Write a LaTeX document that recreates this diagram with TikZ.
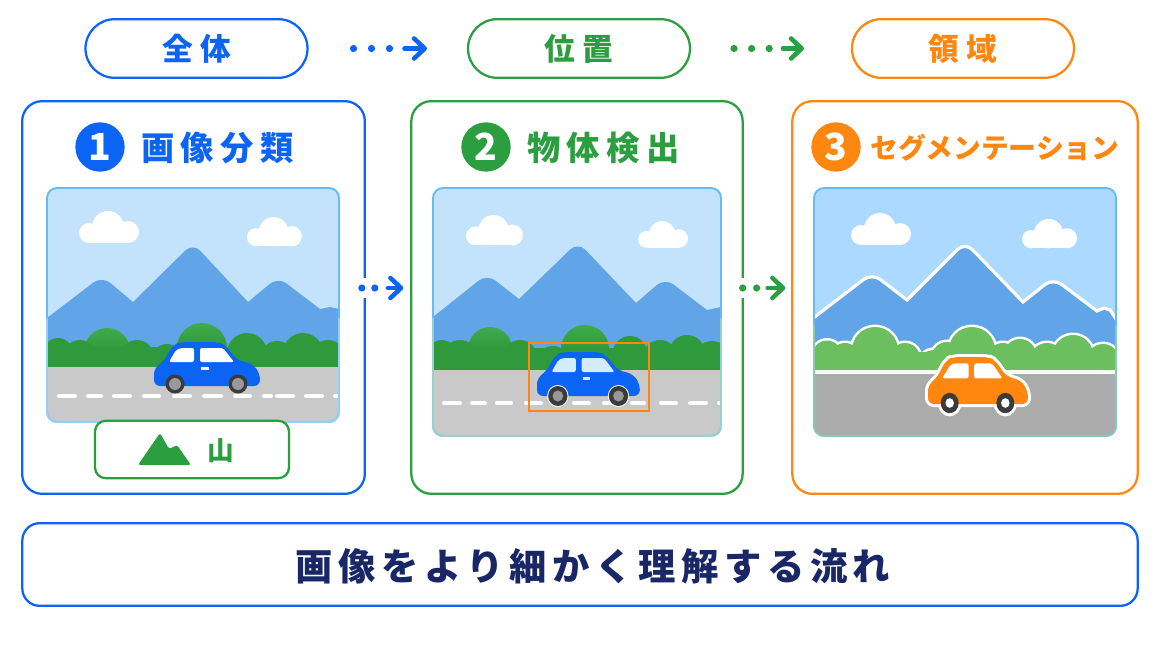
\documentclass[tikz,border=0pt]{standalone}
\usepackage{fontspec}
\usetikzlibrary{arrows.meta,calc}
\newfontfamily\jpwide[LetterSpace=24]{Noto Sans CJK JP}
\newfontfamily\jphead[LetterSpace=19]{Noto Sans CJK JP}
\newfontfamily\jplong[LetterSpace=15]{Noto Sans CJK JP}
\newfontfamily\jpplain{Noto Sans CJK JP}
\definecolor{cBlue}{HTML}{0B64F4}
\definecolor{cGreen}{HTML}{2B9E40}
\definecolor{cOrange}{HTML}{FF860F}
\definecolor{cNavy}{HTML}{1A2767}
\definecolor{cSky}{HTML}{C2E3FB}
\definecolor{cSkyDeep}{HTML}{ABD9FF}
\definecolor{cMount}{HTML}{62A4E8}
\definecolor{cBush}{HTML}{2F9A3C}
\definecolor{cBushTop}{HTML}{40AB4B}
\definecolor{cBushLight}{HTML}{6BBF5F}
\definecolor{cRoad}{HTML}{C9C9C9}
\definecolor{cRoadDeep}{HTML}{ABABAB}
\definecolor{cFrameTop}{HTML}{66BBF6}
\definecolor{cWheel}{HTML}{3B3B3B}
\tikzset{
  x=0.75pt,y=-0.75pt,
  panelbox/.style={draw=#1,line width=1.7pt,fill=white,rounded corners=15pt,inner sep=0pt,outer sep=0pt},
  pillbox/.style={draw=#1,line width=1.7pt,fill=white,rounded corners=22pt,inner sep=0pt,outer sep=0pt,
    minimum width=166.5pt,minimum height=44pt,text=#1},
  pilltext/.style={text=#1,inner sep=0pt,font=\jpwide\bfseries\fontsize{23pt}{26pt}\selectfont},
  heading/.style={text=#1,inner sep=0pt,font=\jphead\bfseries\fontsize{25pt}{28pt}\selectfont},
  badge/.style={circle,fill=#1,text=white,inner sep=0pt,minimum size=37pt,font=\jpplain\bfseries\fontsize{28pt}{30pt}\selectfont},
  dotrun/.style={draw=#1,line width=5.4pt,line cap=round},
  shaft/.style={draw=#1,line width=3.4pt,line cap=round,-{Straight Barb[length=8pt,width=15pt,round]}},
  roaddash/.style={white,line width=3pt,line cap=round,shorten <=1.5pt,shorten >=1.5pt},
  framing/.style={draw=#1,line width=1.4pt,rounded corners=7.5pt},
}
% one cloud: left end, top, width in px
\newcommand{\skycloud}[3]{%
  \begin{scope}[shift={(#1,#2)},scale=#3/60]
    \fill[white] (29,16) circle[radius=16];
    \fill[white] (49,21) circle[radius=11];
    \fill[white] (10,22) circle[radius=10];
    \fill[white] (10,13) rectangle (49,32);
  \end{scope}}
% car outline and window panes, in the car's own 106 px wide frame
\newcommand{\carbody}{(0,44) -- (0,26) -- (9,20) -- (19,3) -- (27,0) -- (64,0) -- (71,3) -- (83,18) -- (99,22) -- (106,32) -- (106,44) -- cycle}
\newcommand{\carglass}[1]{%
  \fill[#1,rounded corners=1.5pt] (15,20) -- (22,8) -- (27,6) -- (40,6) -- (40,20) -- cycle;
  \fill[#1,rounded corners=1.5pt] (46,6) -- (69,6) -- (80,20) -- (46,20) -- cycle;
  \fill[#1] (47,25) rectangle (55,28);}
% a bush with a lighter crown
\newcommand{\crownbush}[3]{\shade[top color=cBushTop,bottom color=cBush,middle color=cBush] (#1,#2) circle[radius=#3];}
\begin{document}
\begin{tikzpicture}
\useasboundingbox (0,0) rectangle (1154,649);
\fill[white] (0,0) rectangle (1154,649);

% stage labels along the top
\node[pillbox=cBlue]  (pillA) at (196.5,48.5) {};
\node[pillbox=cGreen] (pillB) at (579,48.5) {};
\node[pillbox=cOrange](pillC) at (963,48.5) {};
\node[pilltext=cBlue]   (pillAt) at (pillA) {全体};
\node[pilltext=cGreen]  (pillBt) at (pillB) {位置};
\node[pilltext=cOrange] (pillCt) at (pillC) {領域};

% the three panels
\node[panelbox=cBlue,minimum width=257pt,minimum height=294.5pt]   (panA) at (193.5,297.5) {};
\node[panelbox=cGreen,minimum width=248.5pt,minimum height=294.5pt]    (panB) at (577,297.5) {};
\node[panelbox=cOrange,minimum width=259pt,minimum height=294.5pt] (panC) at (965,297.5) {};

% arrows between the stage labels
\draw[dotrun=cBlue,dash pattern=on 0pt off 13.5pt] ($(pillA.east)+(46,0)$) -- ($(pillA.east)+(84,0)$);
\draw[shaft=cBlue] ($(pillA.east)+(97,0)$) -- ($(pillB.west)+(-41,0)$);
\draw[dotrun=cGreen,dash pattern=on 0pt off 13.2pt] ($(pillB.east)+(44,0)$) -- ($(pillB.east)+(81,0)$);
\draw[shaft=cGreen] ($(pillB.east)+(93,0)$) -- ($(pillC.west)+(-48,0)$);

% panel 1
\begin{scope}
  \clip[rounded corners=7.5pt] (47,188) rectangle (339,422);
  \fill[cSky] (47,188) rectangle (339,422);
  \fill[cMount] (47,318) [rounded corners=8pt] -- (102,276) [sharp corners] -- (133,302) [rounded corners=8pt] -- (193,243) [sharp corners] -- (248,302) [rounded corners=8pt] -- (278,277) [sharp corners] -- (320,309) -- (330,307) -- (339,309) -- (339,370) -- (47,370) -- cycle;
  \crownbush{107}{351}{23}
  \crownbush{202}{348}{25}
  \foreach \bx/\by/\br in {58/353/15,80/357/17,137/357/17,167/360/16,247/353/20,277/358/17,303/353/20,328/357/17}
    \fill[cBush] (\bx,\by) circle[radius=\br];
  \fill[cBush] (47,347) rectangle (339,367);
  \fill[cRoad] (47,367) rectangle (339,422);
  \foreach \da/\db in {57/77,86/103,112/132,142/161,172/192,202/223,233/252,262/273,275/295,304/324,333/339}
    \draw[roaddash] (\da,396) -- (\db,396);
\end{scope}
\draw[framing=cFrameTop] (47,188) rectangle (339,422);
\begin{scope}
  \clip (40,318) rectangle (345,430);
  \draw[framing=cFrameTop!70!white] (47,188) rectangle (339,422);
\end{scope}
\skycloud{79}{211}{60}
\skycloud{247}{217}{55}
\begin{scope}[shift={(154,342)}]
  \fill[cBlue,rounded corners=4.5pt] \carbody;
  \carglass{white}
  \foreach \wx in {21,84} {\fill[cWheel] (\wx,42) circle[radius=9.5]; \fill[black!40] (\wx,42) circle[radius=6];}
\end{scope}

% panel 1 result tag
\node[draw=cGreen,line width=1.7pt,fill=white,rounded corners=8pt,inner sep=0pt,minimum width=145.5pt,minimum height=43pt] (tag) at (192,449.5) {};
\fill[cGreen,rounded corners=1.8pt] (138,465) -- (160,433) -- (169,449) -- (177,445) -- (191,465) -- cycle;
\node[text=cGreen,inner sep=0pt,font=\jpplain\bfseries\fontsize{20pt}{22pt}\selectfont] (tagt) at (220.5,451) {山};

% panel 2
\begin{scope}
  \clip[rounded corners=7.5pt] (433,188) rectangle (721,436);
  \fill[cSky] (433,188) rectangle (721,436);
  \fill[cMount] (433,317) [rounded corners=8pt] -- (487,274) [sharp corners] -- (519,299) [rounded corners=8pt] -- (578,242) [sharp corners] -- (636,303) [rounded corners=8pt] -- (665,278) [sharp corners] -- (707,310) -- (721,307) -- (721,372) -- (433,372) -- cycle;
  \crownbush{490}{349}{22}
  \crownbush{585}{349}{24}
  \foreach \bx/\by/\br in {442/355/15,460/357/17,520/357/17,553/363/17,630/353/17,660/357/17,687/353/18,712/358/17}
    \fill[cBush] (\bx,\by) circle[radius=\br];
  \fill[cBush] (433,348) rectangle (721,370);
  \fill[cRoad] (433,370) rectangle (721,436);
  \foreach \da/\db in {442/462,470/487,495/513,524/543,553/563,572/591,602/620,630/646,659/678,688/708,717/721}
    \draw[roaddash] (\da,403) -- (\db,403);
\end{scope}
\draw[framing=cFrameTop] (433,188) rectangle (721,436);
\begin{scope}
  \clip (425,318) rectangle (730,445);
  \draw[framing=cFrameTop!60!cBushLight!70!white] (433,188) rectangle (721,436);
\end{scope}
\skycloud{466}{215}{57}
\skycloud{638}{221}{50}
\begin{scope}[shift={(537,352)},xscale=0.97]
  \fill[cBlue,rounded corners=4.5pt] \carbody;
  \carglass{cSky!70!white}
  \foreach \wx in {21.5,84} {\fill[white] (\wx,44) circle[radius=11]; \fill[cWheel] (\wx,44) circle[radius=10]; \fill[black!40] (\wx,44) circle[radius=5.5];}
\end{scope}
\draw[cOrange,line width=2pt] (529,343) rectangle (649,411);

% panel 3
\begin{scope}
  \clip[rounded corners=7.5pt] (814,188) rectangle (1116,436);
  \fill[cSkyDeep] (814,188) rectangle (1116,436);
  \filldraw[fill=cMount,draw=white,line width=2.4pt] (812,319) [rounded corners=8pt] -- (872,273) [sharp corners] -- (907,300) [rounded corners=8pt] -- (965,242) [sharp corners] -- (1023,302) [rounded corners=8pt] -- (1053,278) [sharp corners] -- (1097,311) -- (1104,308) -- (1110,310) -- (1118,322) -- (1118,372) -- (812,372) -- cycle;
  \foreach \bx/\by/\br in {827/355/14.5,845/358/15,875/350/23,905/358/15,933/363/13,947/357/15,972/350/23,1003/358/15,1020/355/16,1047/360/17,1073/355/20,1103/360/16}
    \fill[white] (\bx,\by) circle[radius=\br+2.5];
  \foreach \bx/\by/\br in {827/355/14.5,845/358/15,875/350/23,905/358/15,933/363/13,947/357/15,972/350/23,1003/358/15,1020/355/16,1047/360/17,1073/355/20,1103/360/16}
    \fill[cBushLight] (\bx,\by) circle[radius=\br];
  \fill[cBushLight] (814,352) rectangle (1116,370);
  \fill[white] (814,370) rectangle (1116,374);
  \fill[cRoadDeep] (814,374) rectangle (1116,436);
\end{scope}
\draw[framing=cFrameTop] (814,188) rectangle (1116,436);
\begin{scope}
  \clip (805,325) rectangle (1125,445);
  \draw[framing=cFrameTop!40!cBushLight!80!white] (814,188) rectangle (1116,436);
\end{scope}
\skycloud{851}{213}{60}
\skycloud{1022}{219}{55}
\begin{scope}[shift={(928,357)},xscale=0.943,yscale=1.07]
  \draw[white,line width=4.5pt,line join=round,rounded corners=4.5pt] \carbody;
  \foreach \wx in {23,82} {\fill[white] (\wx,43) circle[radius=12.5];}
  \fill[cOrange,rounded corners=4.5pt] \carbody;
  \fill[white,rounded corners=1.5pt] (15,20) -- (24,7) -- (28,6) -- (43,6) -- (43,20) -- cycle;
  \fill[white,rounded corners=1.5pt] (49,6) -- (68,6) -- (79,20) -- (49,20) -- cycle;
  \foreach \wx in {23,82} {\fill[cWheel] (\wx,43) circle[radius=9.5]; \fill[white] (\wx,43) circle[radius=4.5];}
\end{scope}

% panel headings
\node[badge=cBlue]   (badgeA) at (100,147) {1};
\node[heading=cBlue,anchor=west]   (headA) at (141,148) {画像分類};
\node[badge=cGreen]  (badgeB) at (486,147) {2};
\node[heading=cGreen,anchor=west]  (headB) at (527,148) {物体検出};
\node[badge=cOrange] (badgeC) at (836,147) {3};
\node[text=cOrange,inner sep=0pt,anchor=west,font=\jpplain\bfseries\fontsize{20.8pt}{24pt}\selectfont] (headC) at (870,148) {セグメンテーション};

% arrows between the panels, each breaking the border it starts on
\fill[white] ($(panA.east)+(-3,-19.5)$) rectangle ($(panA.east)+(3,0.5)$);
\draw[dotrun=cBlue,dash pattern=on 0pt off 9.75pt] ($(panA.east)+(-3,-9.5)$) -- ($(panA.east)+(12,-9.5)$);
\draw[shaft=cBlue] ($(panA.east)+(23,-9.5)$) -- ($(panB.west)+(-8,-9.5)$);
\fill[white] ($(panB.east)+(-3,-19.5)$) rectangle ($(panB.east)+(3,0.5)$);
\draw[dotrun=cGreen,dash pattern=on 0pt off 10.5pt] ($(panB.east)+(0,-9.5)$) -- ($(panB.east)+(16,-9.5)$);
\draw[shaft=cGreen] ($(panB.east)+(25,-9.5)$) -- ($(panC.west)+(-7,-9.5)$);

% closing banner
\node[draw=cBlue,line width=1.7pt,fill=white,rounded corners=13pt,inner sep=0pt,minimum width=836.5pt,minimum height=62pt] (banner) at (580,564.5) {};
\node[text=cNavy,inner sep=0pt,font=\jplong\bfseries\fontsize{28pt}{32pt}\selectfont] (bannert) at ($(banner)+(13,2)$) {画像をより細かく理解する流れ};
\end{tikzpicture}
\end{document}
